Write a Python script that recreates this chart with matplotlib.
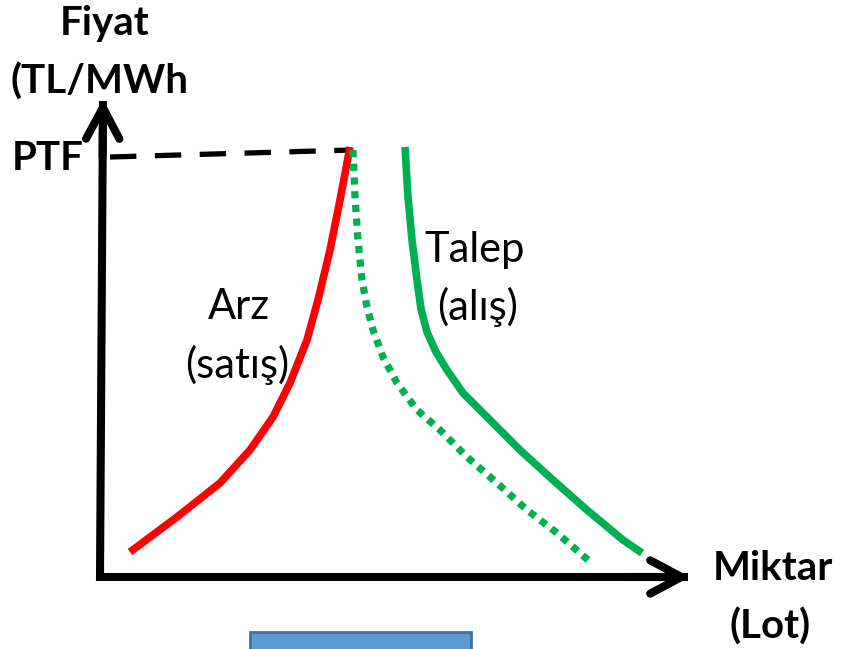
import matplotlib
matplotlib.use("Agg")
import matplotlib.pyplot as plt
from matplotlib.patches import Rectangle

# curve points, x = quantity, y = price (arbitrary units, origin at axes corner)
arz_x = [30, 77, 120, 150, 173, 190, 207, 218, 230, 240, 250]
arz_y = [25, 60, 94, 127, 160, 194, 237, 277, 327, 377, 430]

talep_x = [305, 308, 312, 317, 321, 327, 336, 347, 363, 390, 420, 453, 487, 523, 542]
talep_y = [430, 380, 337, 297, 268, 245, 225, 207, 184, 157, 127, 97, 67, 37, 24]

kayik_x = [253, 255, 258, 262, 267, 273, 283, 297, 317, 340, 367, 397, 427, 457, 488]
kayik_y = [427, 380, 337, 297, 270, 247, 220, 194, 167, 147, 120, 94, 67, 44, 17]

ptf_x = [10, 252]
ptf_y = [420, 427]

plt.rcParams['font.family'] = ['Lato', 'DejaVu Sans']
plt.rcParams['hatch.color'] = '#f1f1f1'
plt.rcParams['hatch.linewidth'] = 1.2

fig = plt.figure(figsize=(8.48, 6.49), dpi=100)
ax = fig.add_axes([0, 0, 1, 1])
ax.set_xlim(-100, 748)
ax.set_ylim(-72, 577)
ax.axis('off')

# faint diagonal background stripes
ax.add_patch(Rectangle((-100, -72), 848, 649, facecolor='white', edgecolor='none',
                       hatch='//', zorder=0))

# axes: one polyline for a sharp corner, then open arrow heads
ax.plot([3, 0, 588], [476, 0, 0], color='black', lw=5.8, solid_joinstyle='miter',
        solid_capstyle='butt', zorder=3)
arr = dict(arrowstyle='->,head_length=1.5,head_width=0.8', lw=5.8, color='black',
           mutation_scale=15, shrinkA=0, shrinkB=0)
ax.annotate('', xy=(3, 478), xytext=(2.6, 420), arrowprops=arr, zorder=3)
ax.annotate('', xy=(590, 0), xytext=(530, 0), arrowprops=arr, zorder=3)

ax.plot(ptf_x, ptf_y, color='black', lw=3.8, ls=(0, (5, 3.5)), zorder=2)
ax.plot(arz_x, arz_y, color='#ff0000', lw=5.5, zorder=3, solid_capstyle='butt',
        solid_joinstyle='round')
ax.plot(talep_x, talep_y, color='#00b050', lw=5.5, zorder=3, solid_capstyle='butt',
        solid_joinstyle='round')
ax.plot(kayik_x, kayik_y, color='#00b050', lw=5.2, ls=(0, (1, 0.9)), zorder=3)

bold = dict(fontsize=29, fontweight='bold', color='black')
ax.text(5, 553, 'Fiyat', ha='center', va='center', **bold)
ax.text(-90, 495, '(TL/MWh', ha='left', va='center', **bold)
ax.text(-88, 418, 'PTF', ha='left', va='center', **bold)
ax.text(673, 8, 'Miktar', ha='center', va='center', **bold)
ax.text(670, -50, '(Lot)', ha='center', va='center', **bold)

norm = dict(fontsize=30, color='black')
ax.text(139, 270, 'Arz', ha='center', va='center', **norm)
ax.text(137, 212, '(satış)', ha='center', va='center', **norm)
ax.text(375, 327, 'Talep', ha='center', va='center', **norm)
ax.text(378, 270, '(alış)', ha='center', va='center', **norm)

ax.add_patch(Rectangle((150, -80), 221, 25, facecolor='#5b9bd5',
                       edgecolor='#41719c', lw=2, zorder=2))

fig.savefig('out.png', dpi=100)
